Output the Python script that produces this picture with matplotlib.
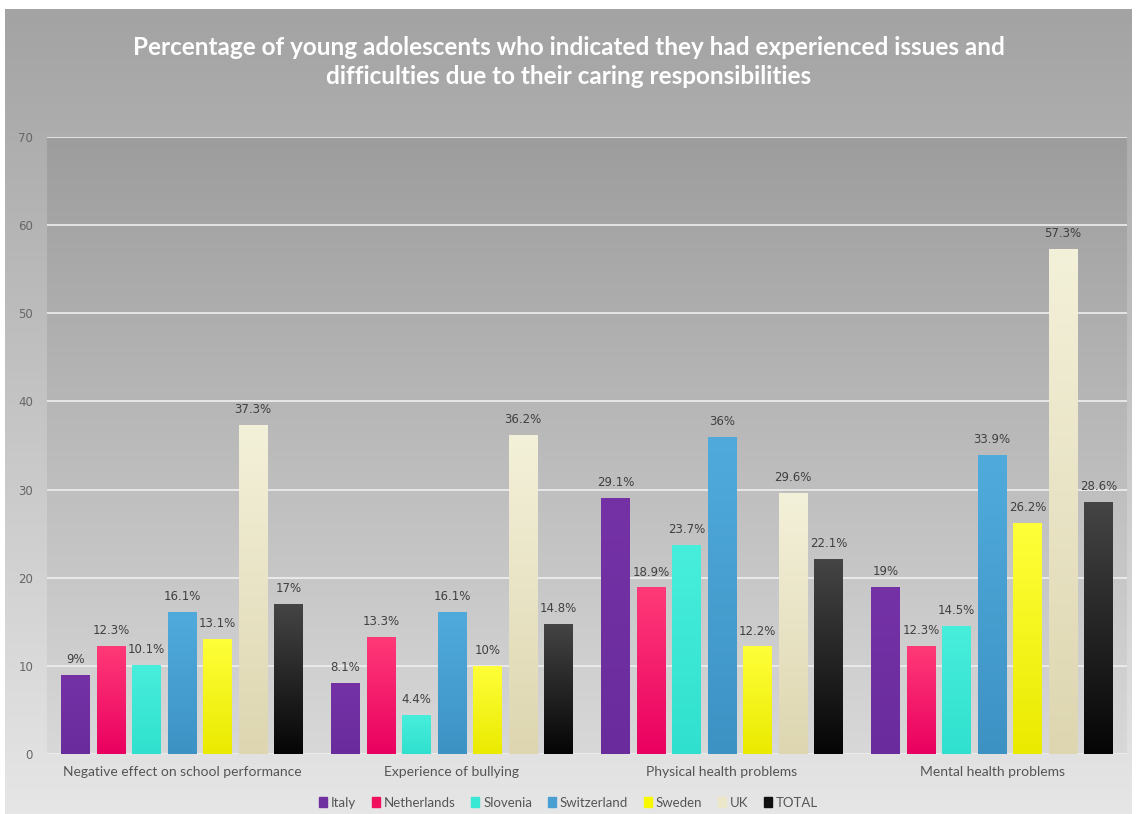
import numpy as np
import matplotlib
matplotlib.use("Agg")
import matplotlib.pyplot as plt
from matplotlib.patches import Rectangle
from matplotlib.colors import to_rgb

categories = ["Negative effect on school performance", "Experience of bullying",
              "Physical health problems", "Mental health problems"]
series_names = ["Italy", "Netherlands", "Slovenia", "Switzerland", "Sweden", "UK", "TOTAL"]
italy = [9, 8.1, 29.1, 19]
netherlands = [12.3, 13.3, 18.9, 12.3]
slovenia = [10.1, 4.4, 23.7, 14.5]
switzerland = [16.1, 16.1, 36, 33.9]
sweden = [13.1, 10, 12.2, 26.2]
uk = [37.3, 36.2, 29.6, 57.3]
total = [17, 14.8, 22.1, 28.6]
series_values = [italy, netherlands, slovenia, switzerland, sweden, uk, total]
yticks = [0, 10, 20, 30, 40, 50, 60, 70]
title = ("Percentage of young adolescents who indicated they had experienced issues and\n"
         "difficulties due to their caring responsibilities")

# (top colour, bottom colour) per series
grad_colors = [("#7432a6", "#6a2c9c"),
               ("#ff3a78", "#ea0060"),
               ("#48eedc", "#30e0ce"),
               ("#50abdc", "#3d92c4"),
               ("#ffff3a", "#eaea00"),
               ("#f4f1da", "#ddd6b0"),
               ("#454545", "#050505")]
legend_colors = ["#7030a0", "#f0105e", "#38e8d4", "#4a9fd2", "#f8f800", "#ece7c8", "#111111"]


def vgrad(top, bottom, n=256):
    t = np.linspace(0, 1, n)[:, None]
    a = np.array(to_rgb(top)); b = np.array(to_rgb(bottom))
    return (a * (1 - t) + b * t)[:, None, :].reshape(n, 1, 3)


W, H = 1137, 814
fig = plt.figure(figsize=(W / 100, H / 100), dpi=100)
fig.patch.set_facecolor("white")

# background gradient of chart area
bg = fig.add_axes([5 / W, 0, 1127 / W, 1 - 9 / H], zorder=-10)
bg.imshow(vgrad("#a3a3a3", "#e6e6e6"), aspect="auto", extent=[0, 1, 0, 1], origin="upper")
bg.set_axis_off()

ax = fig.add_axes([47 / W, 1 - 754 / H, 1080 / W, (754 - 137) / H])
ax.patch.set_alpha(0)
# plot area gradient
ax.imshow(vgrad("#9d9d9d", "#d8d8d8"), aspect="auto", extent=[-0.5, 3.5, 0, 70],
          origin="upper", zorder=0)

for s in ax.spines.values():
    s.set_visible(False)
ax.set_yticks(yticks)
ax.yaxis.grid(True, color="#efefef", lw=1.2, zorder=1)
ax.set_axisbelow(True)
ax.tick_params(axis="both", length=0, colors="#595959")
ax.tick_params(axis="y", pad=10, labelsize=8.5)
ax.set_yticklabels([str(v) for v in yticks], family="DejaVu Sans", color="#666666")
ax.set_xticks(range(len(categories)))
ax.set_xticklabels(categories, family="Lato", fontsize=10, color="#555555")
ax.tick_params(axis="x", pad=9)

x = np.arange(len(categories))
step = 0.1315
width = 0.107
for i, (name, vals) in enumerate(zip(series_names, series_values)):
    pos = x + (i - 3) * step
    bars = ax.bar(pos, vals, width=width, color=legend_colors[i], zorder=2, label=name)
    top, bot = grad_colors[i]
    for b, v in zip(bars, vals):
        bx, bw, bh = b.get_x(), b.get_width(), b.get_height()
        im = ax.imshow(vgrad(top, bot), aspect="auto", extent=[bx, bx + bw, 0, bh],
                       origin="upper", zorder=3)
        im.set_clip_path(b)
        ax.text(bx + bw / 2, bh + 1.0, f"{v:g}%", ha="center", va="bottom",
                fontsize=8.5, color="#404040", family="DejaVu Sans", zorder=4)

ax.set_xlim(-0.5, 3.5)
ax.set_ylim(0, 70)

fig.text(0.5, 1 - 62 / H, title, ha="center", va="center", color="white",
         fontsize=17.5, fontweight="bold", family="Lato", linespacing=1.3)

handles = [Rectangle((0, 0), 1, 1, color=c) for c in legend_colors]
fig.legend(handles, series_names, loc="center", bbox_to_anchor=(0.5, 1 - 803 / H),
           ncol=7, frameon=False, handlelength=0.6, handleheight=0.8, handletextpad=0.3,
           columnspacing=1.2, prop={"family": "Lato", "size": 9.5}, labelcolor="#555555")

fig.savefig("out.png", dpi=100)
